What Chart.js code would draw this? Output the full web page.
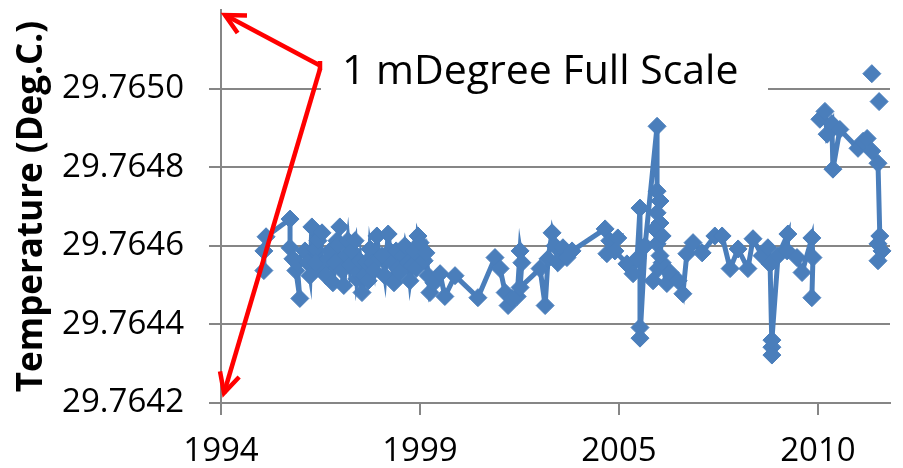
<!DOCTYPE html>
<html>
<head>
<meta charset="utf-8">
<script src="https://cdn.jsdelivr.net/npm/chart.js@4/dist/chart.umd.min.js"></script>
<style>
  html, body { margin: 0; padding: 0; background: #fff; }
  #wrap { width: 903px; height: 468px; }
</style>
</head>
<body>
<div id="wrap"><canvas id="c" width="903" height="468"></canvas></div>
<script>
// Measurement dates (decimal years) and temperatures (deg C), 1995 - 2010
const earlyDates = [
  1995.48, 1995.48, 1995.54, 1996.20, 1996.20, 1996.28, 1996.36, 1996.47, 1996.39,
  1996.61, 1996.69, 1996.75, 1996.80, 1996.89, 1996.97, 1997.02, 1997.08, 1996.91, 1997.19,
  1997.24, 1997.30, 1997.38, 1997.44, 1997.49, 1997.57, 1997.52, 1997.63, 1997.68, 1997.74,
  1997.79, 1997.85, 1997.90, 1997.99, 1998.04, 1998.07, 1998.12, 1998.18, 1998.24, 1998.29,
  1998.35, 1998.40, 1998.46, 1998.51, 1998.59, 1998.65, 1998.73, 1998.81, 1998.90, 1998.95,
  1999.01, 1999.06, 1999.12, 1999.17, 1999.23, 1999.31, 1999.36, 1999.45, 1999.50, 1999.56,
  1999.61, 1999.67, 1999.72, 1999.78, 1999.83, 1999.89, 1999.94, 2000.00, 2000.05, 2000.16,
  2000.33, 2000.46, 2000.74, 2001.37, 2001.84, 2001.98, 2002.12, 2002.20,
  2002.31, 2002.45, 2002.53, 2002.58, 2002.53, 2003.08, 2003.22, 2003.30, 2003.41, 2003.49,
  2003.57, 2003.71, 2003.82, 2003.96, 2004.87, 2005.00, 2005.22, 2004.92, 2005.14, 2005.47,
  2005.64, 2005.75, 2005.83, 2005.83, 2005.83, 2005.97, 2006.30, 2006.30, 2006.38, 2006.30,
  2006.38, 2006.30, 2006.24, 2006.44, 2006.33, 2006.44, 2006.19, 2006.57, 2006.38, 2006.66,
  2006.88, 2007.01, 2007.12,
  2007.29, 2007.54, 2007.89, 2008.09, 2008.31, 2008.53, 2008.80, 2008.94, 2009.19, 2009.35,
  2009.41, 2009.46, 2009.46, 2009.46, 2009.63, 2009.90, 2009.88, 2010.15, 2010.29, 2010.56,
  2010.59, 2010.56
];
const earlyTemps = [
  29.764537, 29.764587, 29.764623, 29.764668, 29.764595, 29.764567, 29.764537, 29.764466, 29.764557,
  29.764587, 29.764557, 29.764524, 29.764648, 29.764592, 29.764613, 29.764542, 29.764633, 29.764557, 29.764524,
  29.764567, 29.764587, 29.764506, 29.764557, 29.764613, 29.764648, 29.764600, 29.764537, 29.764499, 29.764575,
  29.764613, 29.764549, 29.764587, 29.764613, 29.764516, 29.764532, 29.764562, 29.764481, 29.764524, 29.764557,
  29.764511, 29.764592, 29.764557, 29.764537, 29.764625, 29.764567, 29.764575, 29.764524, 29.764630, 29.764587,
  29.764557, 29.764506, 29.764587, 29.764542, 29.764532, 29.764575, 29.764600, 29.764557, 29.764511, 29.764549,
  29.764587, 29.764542, 29.764625, 29.764608, 29.764567, 29.764562, 29.764582, 29.764524, 29.764481, 29.764506,
  29.764529, 29.764471, 29.764524, 29.764468, 29.764570, 29.764542, 29.764481, 29.764448,
  29.764466, 29.764471, 29.764587, 29.764557, 29.764494, 29.764542, 29.764448, 29.764567, 29.764633, 29.764600,
  29.764557, 29.764595, 29.764570, 29.764587, 29.764643, 29.764613, 29.764620, 29.764580, 29.764587, 29.764554,
  29.764529, 29.764567, 29.764696, 29.764392, 29.764365, 29.764600, 29.764904, 29.764739, 29.764714, 29.764684,
  29.764658, 29.764605, 29.764643, 29.764625, 29.764542, 29.764557, 29.764511, 29.764504, 29.764575, 29.764532,
  29.764511, 29.764478, 29.764580,
  29.764608, 29.764582, 29.764625, 29.764625, 29.764542, 29.764592, 29.764542, 29.764618, 29.764575, 29.764595,
  29.764554, 29.764342, 29.764322, 29.764360, 29.764575, 29.764630, 29.764587, 29.764570, 29.764532, 29.764620,
  29.764570, 29.764468
];

// Later run, after the break
const lateDates = [
  2010.78, 2010.92, 2010.98, 2011.11, 2011.14, 2011.33, 2011.83, 2011.97, 2012.08, 2012.21,
  2012.38, 2012.43, 2012.38, 2012.49, 2012.38
];
const lateTemps = [
  29.764922, 29.764942, 29.764884, 29.764911, 29.764795, 29.764896, 29.764848, 29.764866, 29.764873, 29.764841,
  29.764810, 29.764625, 29.764605, 29.764587, 29.764562
];

// Single readings not joined to the run
const strayDates = [2012.21, 2012.41];
const strayTemps = [29.765038, 29.764967];

// Axis ticks
const yTickValues = [29.7642, 29.7644, 29.7646, 29.7648, 29.7650];
const xTickLabels = ['1994', '1999', '2005', '2010'];

const Y_MIN = 29.7642, Y_MAX = 29.7652;
const X_MIN = 1994.3, X_STEP = 2000 / 365.25, X_MAX = 2012.71;

const BLUE = '#4a7ebb';
const GRID = '#868686';
const FONT = "'Open Sans', 'DejaVu Sans', sans-serif";

const toPoints = (xs, ys) => xs.map((x, i) => ({ x: x, y: ys[i] }));

const seriesStyle = {
  borderColor: BLUE,
  backgroundColor: BLUE,
  borderWidth: 5,
  pointStyle: 'rectRot',
  pointRadius: 9,
  pointHoverRadius: 9,
  pointBackgroundColor: BLUE,
  pointBorderColor: BLUE,
  pointBorderWidth: 1,
  tension: 0,
  clip: false
};

// Red "full scale" callout with arrows to the axis ends
const fullScaleNote = {
  id: 'fullScaleNote',
  afterDatasetsDraw(chart) {
    const { ctx, chartArea: a, scales: { y } } = chart;
    const yTop = y.getPixelForValue(Y_MAX);
    const yBot = y.getPixelForValue(Y_MIN);
    ctx.save();
    // white label box
    ctx.fillStyle = '#ffffff';
    ctx.fillRect(a.left + 100, a.top + 30, 447, 60);
    ctx.fillStyle = '#000000';
    ctx.font = '41px ' + FONT;
    ctx.textBaseline = 'alphabetic';
    ctx.textAlign = 'left';
    ctx.fillText('1 mDegree Full Scale', a.left + 121, a.top + 74);

    const vx = a.left + 98, vy = a.top + 55;
    ctx.strokeStyle = '#ff0000';
    ctx.lineWidth = 4.5;
    ctx.lineJoin = 'miter';
    const arrow = (x0, y0, x1, y1) => {
      ctx.beginPath();
      ctx.moveTo(x0, y0);
      ctx.lineTo(x1, y1);
      ctx.stroke();
      const ang = Math.atan2(y0 - y1, x0 - x1);
      const L = 22, spread = 0.47;
      ctx.beginPath();
      ctx.moveTo(x1 + L * Math.cos(ang - spread), y1 + L * Math.sin(ang - spread));
      ctx.lineTo(x1, y1);
      ctx.lineTo(x1 + L * Math.cos(ang + spread), y1 + L * Math.sin(ang + spread));
      ctx.stroke();
    };
    arrow(vx, vy, a.left + 4, yTop + 5);
    arrow(vx + 1, vy + 4, a.left + 3, yBot - 10);
    ctx.beginPath();
    ctx.moveTo(vx + 1, vy - 4);
    ctx.lineTo(vx + 1, vy + 5);
    ctx.stroke();
    ctx.restore();
  }
};

new Chart(document.getElementById('c'), {
  type: 'scatter',
  data: {
    datasets: [
      Object.assign({ data: toPoints(earlyDates, earlyTemps), showLine: true }, seriesStyle),
      Object.assign({ data: toPoints(lateDates, lateTemps), showLine: true }, seriesStyle),
      Object.assign({ data: toPoints(strayDates, strayTemps), showLine: false }, seriesStyle)
    ]
  },
  options: {
    responsive: false,
    animation: false,
    devicePixelRatio: 1,
    layout: { padding: { left: 0, top: 8, right: 13, bottom: 0 } },
    plugins: { legend: { display: false }, tooltip: { enabled: false } },
    scales: {
      x: {
        type: 'linear',
        min: X_MIN,
        max: X_MAX,
        afterBuildTicks: s => { s.ticks = xTickLabels.map((_, i) => ({ value: X_MIN + i * X_STEP })); },
        afterFit: s => { s.height = 65; s.paddingLeft = 0; s.paddingRight = 0; },
        ticks: {
          callback: (v, i) => xTickLabels[i],
          font: { family: FONT, size: 33 },
          color: '#000',
          padding: 17,
          maxRotation: 0,
          autoSkip: false
        },
        grid: { drawOnChartArea: false, drawTicks: true, tickLength: 12, color: GRID, lineWidth: 2 },
        border: { color: GRID, width: 2 }
      },
      y: {
        min: Y_MIN,
        max: Y_MAX,
        afterBuildTicks: s => { s.ticks = yTickValues.map(v => ({ value: v })); },
        afterFit: s => { s.width = 221; s.paddingTop = 0; s.paddingBottom = 0; },
        ticks: {
          callback: v => v.toFixed(4),
          font: { family: FONT, size: 33 },
          color: '#000',
          padding: 25
        },
        grid: { color: GRID, lineWidth: 2, tickLength: 12, drawTicks: true },
        border: { color: GRID, width: 2 },
        title: {
          display: true,
          text: 'Temperature (Deg.C.)',
          font: { family: FONT, size: 35, weight: 'bold' },
          color: '#000',
          padding: { top: 11, bottom: 0 }
        }
      }
    }
  },
  plugins: [fullScaleNote]
});
</script>
</body>
</html>
